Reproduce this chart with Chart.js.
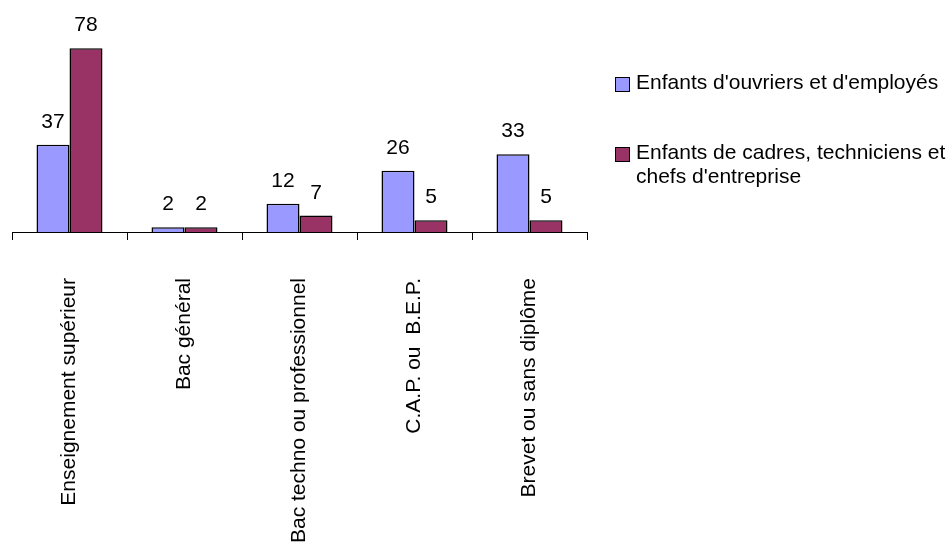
<!DOCTYPE html>
<html lang="fr">
<head>
<meta charset="utf-8">
<title>Diplômes selon l'origine sociale</title>
<script src="https://cdn.jsdelivr.net/npm/chart.js@4.4.1/dist/chart.umd.min.js"></script>
<style>
  html, body { margin: 0; padding: 0; background: #fff; overflow: hidden; }
  #wrap { position: relative; width: 950px; height: 545px; }
  #legend {
    position: absolute; left: 615px; top: 0; width: 335px;
    font-family: "Liberation Sans", Arial, sans-serif; font-size: 21px;
    line-height: 24px; color: #000;
  }
  .item { position: absolute; left: 0; padding-left: 21px; width: 314px; }
  .box {
    position: absolute; left: 0; top: 7px; width: 13px; height: 13px;
    border: 1px solid #000;
  }
</style>
</head>
<body>
<div id="wrap">
  <canvas id="c" width="950" height="545"></canvas>
  <div id="legend"></div>
</div>
<script>
// Niveau de diplôme atteint (%)
const categories = [
  "Enseignement supérieur",
  "Bac général",
  "Bac techno ou professionnel",
  "C.A.P. ou  B.E.P.",
  "Brevet ou sans diplôme"
];
const seriesNames = [
  "Enfants d'ouvriers et d'employés",
  "Enfants de cadres, techniciens et chefs d'entreprise"
];
const ouvriersEmployes = [37, 2, 12, 26, 33];
const cadresTechniciens = [78, 2, 7, 5, 5];

const colors = ["#9999FF", "#993366"];
const FONT = "'Liberation Sans', Arial, sans-serif";

// Value written above each bar
const valueLabels = {
  id: "valueLabels",
  afterDatasetsDraw(chart) {
    const ctx = chart.ctx;
    ctx.save();
    ctx.font = "21px " + FONT;
    ctx.fillStyle = "#000";
    ctx.textAlign = "center";
    ctx.textBaseline = "alphabetic";
    chart.data.datasets.forEach((ds, di) => {
      chart.getDatasetMeta(di).data.forEach((bar, i) => {
        ctx.fillText(String(ds.data[i]), bar.x, bar.y - 17);
      });
    });
    ctx.restore();
  }
};

const chart = new Chart(document.getElementById("c"), {
  type: "bar",
  data: {
    labels: categories,
    datasets: [
      { label: seriesNames[0], data: ouvriersEmployes },
      { label: seriesNames[1], data: cadresTechniciens }
    ].map((d, i) => Object.assign(d, {
      backgroundColor: colors[i],
      borderColor: "#000",
      borderWidth: 1.5,
      categoryPercentage: 0.574,
      barPercentage: 1
    }))
  },
  options: {
    responsive: false,
    animation: false,
    events: [],
    layout: { padding: { left: 12, right: 363, top: 20, bottom: 0 } },
    plugins: { legend: { display: false }, tooltip: { enabled: false } },
    scales: {
      y: { display: false, min: 0, max: 90 },
      x: {
        offset: true,
        border: { display: true, color: "#000", width: 1 },
        grid: { display: true, offset: true, drawOnChartArea: false, drawTicks: true, tickLength: 8, color: "#000" },
        ticks: {
          color: "#000",
          font: { family: FONT, size: 21 },
          minRotation: 90, maxRotation: 90,
          autoSkip: false,
          padding: 38
        },
        afterFit(scale) { scale.height = 313; }
      }
    }
  },
  plugins: [valueLabels]
});

// Legend beside the plot
const legend = document.getElementById("legend");
const tops = [70, 140];
seriesNames.forEach((name, i) => {
  const item = document.createElement("div");
  item.className = "item";
  item.style.top = tops[i] + "px";
  const box = document.createElement("span");
  box.className = "box";
  box.style.background = colors[i];
  item.appendChild(box);
  item.appendChild(document.createTextNode(name));
  legend.appendChild(item);
});
</script>
</body>
</html>
